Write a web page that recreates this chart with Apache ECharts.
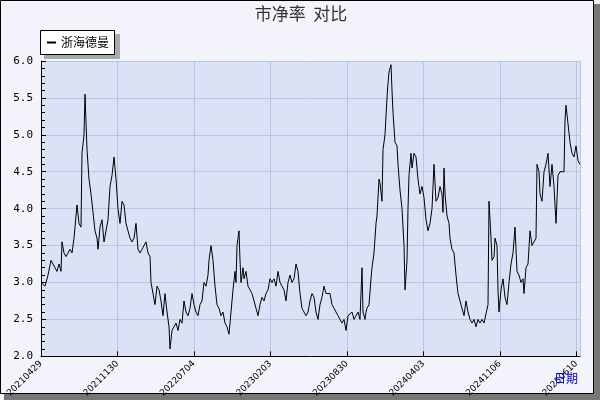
<!DOCTYPE html>
<html><head><meta charset="utf-8">
<script src="https://cdn.jsdelivr.net/npm/echarts@6/dist/echarts.min.js"></script>
<style>html,body{margin:0;padding:0;background:#fff}#c{width:600px;height:400px}</style>
</head><body><div id="c"></div>
<script>
const title = '市净率  对比';
const seriesName = '浙海德曼';
const axisName = '日期';
const tickLabels = ['20210429','20211130','20220704','20230203','20230830','20240403','20241106','20250610'];
// [trading-day index (approx.), P/B]
const seg2021 = [[0,3.0],[8,2.95],[14,3.1],[20,3.3],[24,3.25],[28,3.2],[32,3.15],[36,3.25],[40,3.15],[42,3.55],[46,3.4],[50,3.35],[54,3.4],[58,3.45],[62,3.4],[66,3.6],[68,3.75],[72,4.05],[76,3.8],[80,3.75],[82,4.75],[86,5.0],[88,5.55],[92,4.8],[94,4.8],[96,4.4],[100,4.2],[104,3.95],[108,3.7],[112,3.6],[114,3.45],[118,3.75],[122,3.85],[126,3.55],[130,3.55],[134,3.85],[138,4.3],[142,4.45],[146,4.7],[150,4.4],[154,4.0],[158,3.8],[162,4.1],[166,4.05],[170,3.8],[174,3.7],[178,3.6],[182,3.55],[186,3.6],[190,3.8],[194,3.45],[198,3.4],[202,3.45],[206,3.5],[210,3.55],[214,3.4],[218,3.35],[220,3.0],[224,2.85],[228,2.7],[232,2.95],[236,2.9],[240,2.75],[244,2.55],[248,2.85],[252,2.6],[256,2.4],[258,2.1],[262,2.35],[266,2.4],[270,2.45]];
const seg2022 = [[274,2.35],[278,2.5],[282,2.45],[286,2.75],[290,2.6],[294,2.55],[298,2.65],[302,2.85],[306,2.7],[310,2.6],[314,2.55],[318,2.7],[322,2.75],[326,3.0],[330,2.95],[334,3.1],[336,3.3],[340,3.5],[344,3.3],[348,2.95],[352,2.7],[356,2.65],[360,2.55],[364,2.6],[368,2.45],[372,2.4],[376,2.3],[380,2.6],[384,2.9],[388,3.15],[390,3.0],[392,3.5],[396,3.7],[398,3.3],[400,3.0],[404,3.2],[406,3.05],[410,3.15],[414,2.95],[418,2.9],[422,2.85],[426,2.75],[430,2.65],[434,2.55],[438,2.7],[442,2.8],[446,2.75],[450,2.85],[454,2.9],[458,3.05],[462,3.0],[466,3.05],[470,2.95],[474,3.15],[478,3.0],[482,2.95],[486,2.9],[490,2.75],[494,3.0],[498,3.1],[502,3.0],[506,3.05],[510,3.25],[514,3.15],[518,2.85],[522,2.65],[526,2.6],[530,2.55],[534,2.6]];
const seg2023 = [[538,2.75],[542,2.85],[546,2.8],[550,2.6],[554,2.5],[558,2.7],[562,2.8],[566,2.95],[570,2.85],[574,2.85],[578,2.85],[582,2.7],[586,2.65],[590,2.6],[594,2.55],[598,2.5],[602,2.45],[606,2.5],[610,2.35],[614,2.55],[618,2.55],[622,2.6],[626,2.5],[630,2.5],[634,2.6],[638,2.5],[642,3.2],[644,2.6],[648,2.5],[650,2.6],[652,2.65],[656,2.7],[660,3.05],[662,3.2],[666,3.4],[670,3.8],[672,3.9],[676,4.4],[678,4.35],[682,4.1],[684,4.8],[688,5.0],[692,5.5],[694,5.7],[696,5.85],[700,5.95],[702,5.6],[704,5.3],[708,4.9],[712,4.85],[714,4.6],[718,4.25],[722,4.0],[726,3.5],[728,2.9],[732,3.3],[734,4.0],[736,4.45],[740,4.75],[742,4.55],[746,4.75],[750,4.7],[754,4.4],[758,4.2],[762,4.3],[766,4.15],[770,3.85],[774,3.7],[778,3.8],[782,4.0],[786,4.6],[790,4.1],[794,4.15]];
const seg2024 = [[798,4.3],[802,4.2],[804,3.95],[806,4.55],[808,4.2],[812,3.9],[816,3.8],[818,3.6],[822,3.45],[826,3.4],[830,3.1],[834,2.85],[838,2.75],[842,2.65],[846,2.55],[850,2.75],[854,2.6],[858,2.5],[862,2.45],[866,2.5],[870,2.4],[874,2.5],[878,2.45],[882,2.5],[886,2.45],[890,2.45],[894,2.7],[896,4.1],[900,3.6],[902,3.3],[906,3.35],[908,3.6],[912,3.5],[914,2.9],[916,2.6],[920,2.9],[924,3.05],[928,2.8],[932,2.7],[936,3.0],[940,3.25],[944,3.4],[948,3.75],[952,3.15],[956,3.1],[960,3.0],[964,3.05],[966,2.85],[970,3.2],[974,3.25],[978,3.7],[982,3.5],[986,3.55],[990,3.6],[992,4.6],[996,4.5],[998,4.2],[1002,4.1],[1006,4.5],[1010,4.6],[1014,4.75],[1018,4.3],[1022,4.6],[1026,4.3],[1030,3.8],[1034,4.45],[1038,4.5],[1042,4.5],[1046,4.5],[1048,5.2],[1050,5.4],[1054,5.15],[1058,4.9],[1062,4.75],[1066,4.7],[1070,4.85],[1074,4.65],[1078,4.6]];
const pts = seg2021.concat(seg2022, seg2023, seg2024);
const chart = echarts.init(document.getElementById('c'));
chart.setOption({
  backgroundColor:'#f3f4fb',
  animation:false,
  graphic:[
    {type:'rect',shape:{x:4,y:4,width:596,height:396},style:{fill:'#777'},z:-10},
    {type:'rect',shape:{x:0.5,y:0.5,width:593,height:393},style:{fill:'#f3f4fb',stroke:'#000',lineWidth:1},z:-9},
    {type:'rect',shape:{x:44,y:34,width:76,height:25},style:{fill:'#aaa'},z:5},
    {type:'rect',shape:{x:40.5,y:30.5,width:74,height:24},style:{fill:'#fff',stroke:'#000',lineWidth:1},z:6},
    {type:'line',shape:{x1:47,y1:42.5,x2:56,y2:42.5},style:{stroke:'#000',lineWidth:2},z:7},
    {type:'text',x:61,y:36,style:{text:seriesName,font:'12px "Noto Sans CJK SC"',fill:'#000'},z:7},
    {type:'text',x:301,y:5,style:{text:title,font:'17px "Noto Sans CJK SC"',fill:'#333',align:'center'}},
    {type:'text',x:554,y:372,style:{text:axisName,font:'12px "Noto Sans CJK SC"',fill:'#0000ee'},z:10}
  ],
  grid:{left:41,right:20,top:61,bottom:42,show:true,backgroundColor:'#dce2f6',borderWidth:0},
  xAxis:{type:'value',min:0,max:1078,interval:153,
    axisLine:{show:true,lineStyle:{color:'#000'}},
    axisTick:{show:true,inside:true,length:5,lineStyle:{color:'#000'}},
    splitLine:{show:true,lineStyle:{color:'#b8c4e8',width:1}},
    axisLabel:{rotate:45,fontSize:9,color:'#000',fontFamily:'DejaVu Sans',margin:6,showMaxLabel:false,
      formatter:v=>{const i=Math.round(v/153);return (v%153===0&&tickLabels[i])?tickLabels[i]:'';}}},
  yAxis:{type:'value',min:2,max:6,interval:0.5,
    axisLine:{show:true,lineStyle:{color:'#000'}},
    axisTick:{show:true,inside:true,length:5,lineStyle:{color:'#000'}},
    minorTick:{show:true,splitNumber:5,length:4,lineStyle:{color:'#000'}},
    splitLine:{show:true,lineStyle:{color:'#b8c4e8',width:1}},
    axisLabel:{fontSize:11,color:'#000',fontFamily:'DejaVu Sans Mono',formatter:v=>v.toFixed(1)}},
  series:[{type:'line',name:seriesName,data:pts,showSymbol:false,lineStyle:{color:'#000',width:1}}]
});
</script></body></html>
